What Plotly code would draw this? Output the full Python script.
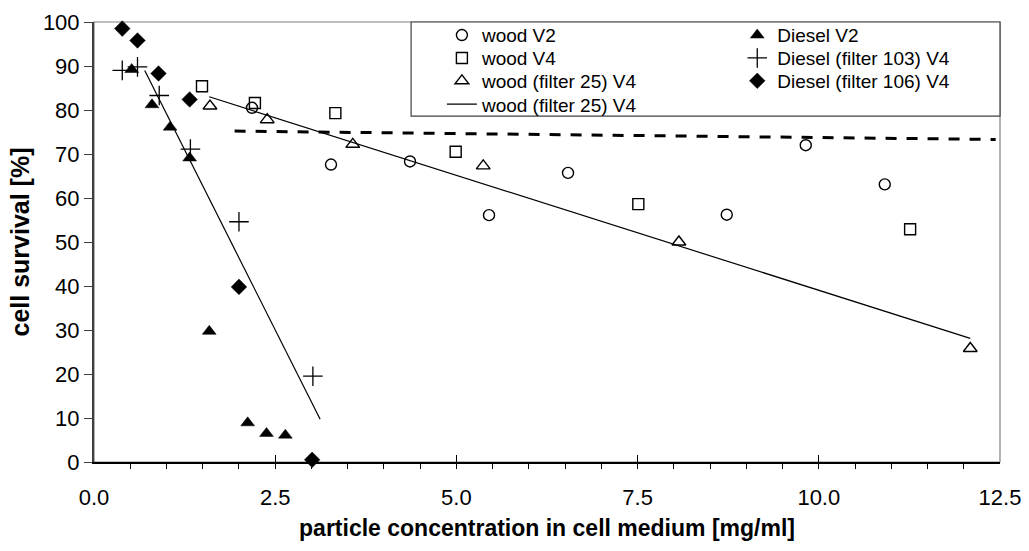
import plotly.graph_objects as go

# ---- data ----
wood_v2_x = [2.18, 3.27, 4.36, 5.45, 6.54, 8.73, 9.82, 10.91]
wood_v2_y = [80.5, 67.6, 68.3, 56.1, 65.7, 56.2, 72.0, 63.1]

wood_v4_x = [1.49, 2.22, 3.33, 4.99, 7.51, 11.26]
wood_v4_y = [85.4, 81.6, 79.3, 70.5, 58.6, 52.9]

wood_f25_x = [1.60, 2.39, 3.57, 5.37, 8.07, 12.09]
wood_f25_y = [80.9, 77.8, 72.2, 67.3, 50.0, 25.8]

diesel_v2_x = [0.52, 0.80, 1.05, 1.32, 1.59, 2.12, 2.38, 2.64]
diesel_v2_y = [89.2, 81.2, 76.1, 69.1, 29.7, 8.9, 6.5, 6.1]

diesel_f103_x = [0.39, 0.60, 0.90, 1.33, 2.00, 3.02]
diesel_f103_y = [89.0, 89.8, 83.3, 71.1, 54.6, 19.5]

diesel_f106_x = [0.39, 0.60, 0.89, 1.32, 2.00, 3.01]
diesel_f106_y = [98.5, 95.8, 88.3, 82.4, 39.8, 0.5]

wood_fit_x = [1.59, 12.09]
wood_fit_y = [83.0, 28.1]
diesel_fit_x = [0.70, 3.12]
diesel_fit_y = [89.0, 9.7]
dashed_x = [1.94, 12.44]
dashed_y = [75.2, 73.3]

x_ticks = [0.0, 2.5, 5.0, 7.5, 10.0, 12.5]
y_ticks = [0, 10, 20, 30, 40, 50, 60, 70, 80, 90, 100]

FONT = "Liberation Sans, Arial, sans-serif"
BLK = "black"

fig = go.Figure()

def pts(x, y, name, symbol, size=11, lw=1.4, legend="legend"):
    fig.add_trace(go.Scatter(
        x=x, y=y, name=name, mode="markers", cliponaxis=False, legend=legend,
        marker=dict(symbol=symbol, size=size, color=BLK,
                    line=dict(color=BLK, width=lw)),
    ))

# trend / reference lines (not in legend except the wood fit)
fig.add_trace(go.Scatter(x=dashed_x, y=dashed_y, mode="lines", showlegend=False,
                         line=dict(color=BLK, width=3, dash="11px,10px")))
fig.add_trace(go.Scatter(x=diesel_fit_x, y=diesel_fit_y, mode="lines", showlegend=False,
                         line=dict(color=BLK, width=1.2)))

# one legend per entry so the two-column layout and row spacing can be matched
pts(wood_v2_x, wood_v2_y, "wood V2", "circle-open", size=11, legend="legend")
pts(wood_v4_x, wood_v4_y, "wood V4", "square-open", size=11, legend="legend2")
pts(wood_f25_x, wood_f25_y, "wood (filter 25) V4", "triangle-up-open", size=12, legend="legend3")
fig.add_trace(go.Scatter(x=wood_fit_x, y=wood_fit_y, mode="lines", name="wood (filter 25) V4",
                         legend="legend4", line=dict(color=BLK, width=1.2)))
pts(diesel_v2_x, diesel_v2_y, "Diesel V2", "triangle-up", size=12, lw=0.5, legend="legend5")
pts(diesel_f103_x, diesel_f103_y, "Diesel (filter 103) V4", "cross-thin-open", size=14, lw=1.3,
    legend="legend6")
pts(diesel_f106_x, diesel_f106_y, "Diesel (filter 106) V4", "diamond", size=12, lw=0.5,
    legend="legend7")

# plot-area frame (grey)
fig.add_shape(type="rect", xref="paper", yref="paper", x0=0, x1=1, y0=0, y1=1,
              line=dict(color="#808080", width=1.2), layer="below")
# legend frame
fig.add_shape(type="rect", xref="paper", yref="paper", x0=0.35, x1=1.0, y0=0.786, y1=1.0,
              line=dict(color="#404040", width=1.2), fillcolor="white", layer="above")

leg_common = dict(bgcolor="rgba(0,0,0,0)", borderwidth=0,
                  font=dict(family=FONT, size=19, color=BLK),
                  itemwidth=30, yanchor="middle", xanchor="left")
col1, col2 = 0.384, 0.710
rows = [0.970, 0.918, 0.866, 0.813]

fig.update_layout(
    width=1029, height=551,
    margin=dict(l=94, r=29, t=22, b=89, autoexpand=False),
    paper_bgcolor="white", plot_bgcolor="white",
    font=dict(family=FONT, size=20, color=BLK),
    legend=dict(x=col1, y=rows[0], **leg_common),
    legend2=dict(x=col1, y=rows[1], **leg_common),
    legend3=dict(x=col1, y=rows[2], **leg_common),
    legend4=dict(x=col1, y=rows[3], **leg_common),
    legend5=dict(x=col2, y=rows[0], **leg_common),
    legend6=dict(x=col2, y=rows[1], **leg_common),
    legend7=dict(x=col2, y=rows[2], **leg_common),
    xaxis=dict(
        range=[0, 12.5], tickvals=x_ticks, tickformat=".1f",
        showgrid=False, zeroline=False,
        showline=True, linecolor=BLK, linewidth=1.5,
        ticks="inside", ticklen=7, tickcolor=BLK, tickwidth=1.2,
        minor=dict(dtick=0.5, ticks="outside", ticklen=5, tickcolor=BLK, tickwidth=1.2),
        ticklabelstandoff=15,
        tickfont=dict(size=22),
        title=dict(text="<b>particle concentration in cell medium [mg/ml]</b>",
                   font=dict(size=23), standoff=11),
    ),
    yaxis=dict(
        range=[0, 100], tickvals=y_ticks,
        showgrid=False, zeroline=False,
        showline=True, linecolor="#404040", linewidth=2,
        ticks="outside", ticklen=8, tickcolor="#404040", tickwidth=1.2,
        tickfont=dict(size=22),
        title=dict(text="<b>cell survival [%]</b>", font=dict(size=25), standoff=6),
    ),
)

fig.write_html("out.html",
               config={"displayModeBar": False},
               post_script="document.body.style.margin='0';document.body.style.padding='0';")
